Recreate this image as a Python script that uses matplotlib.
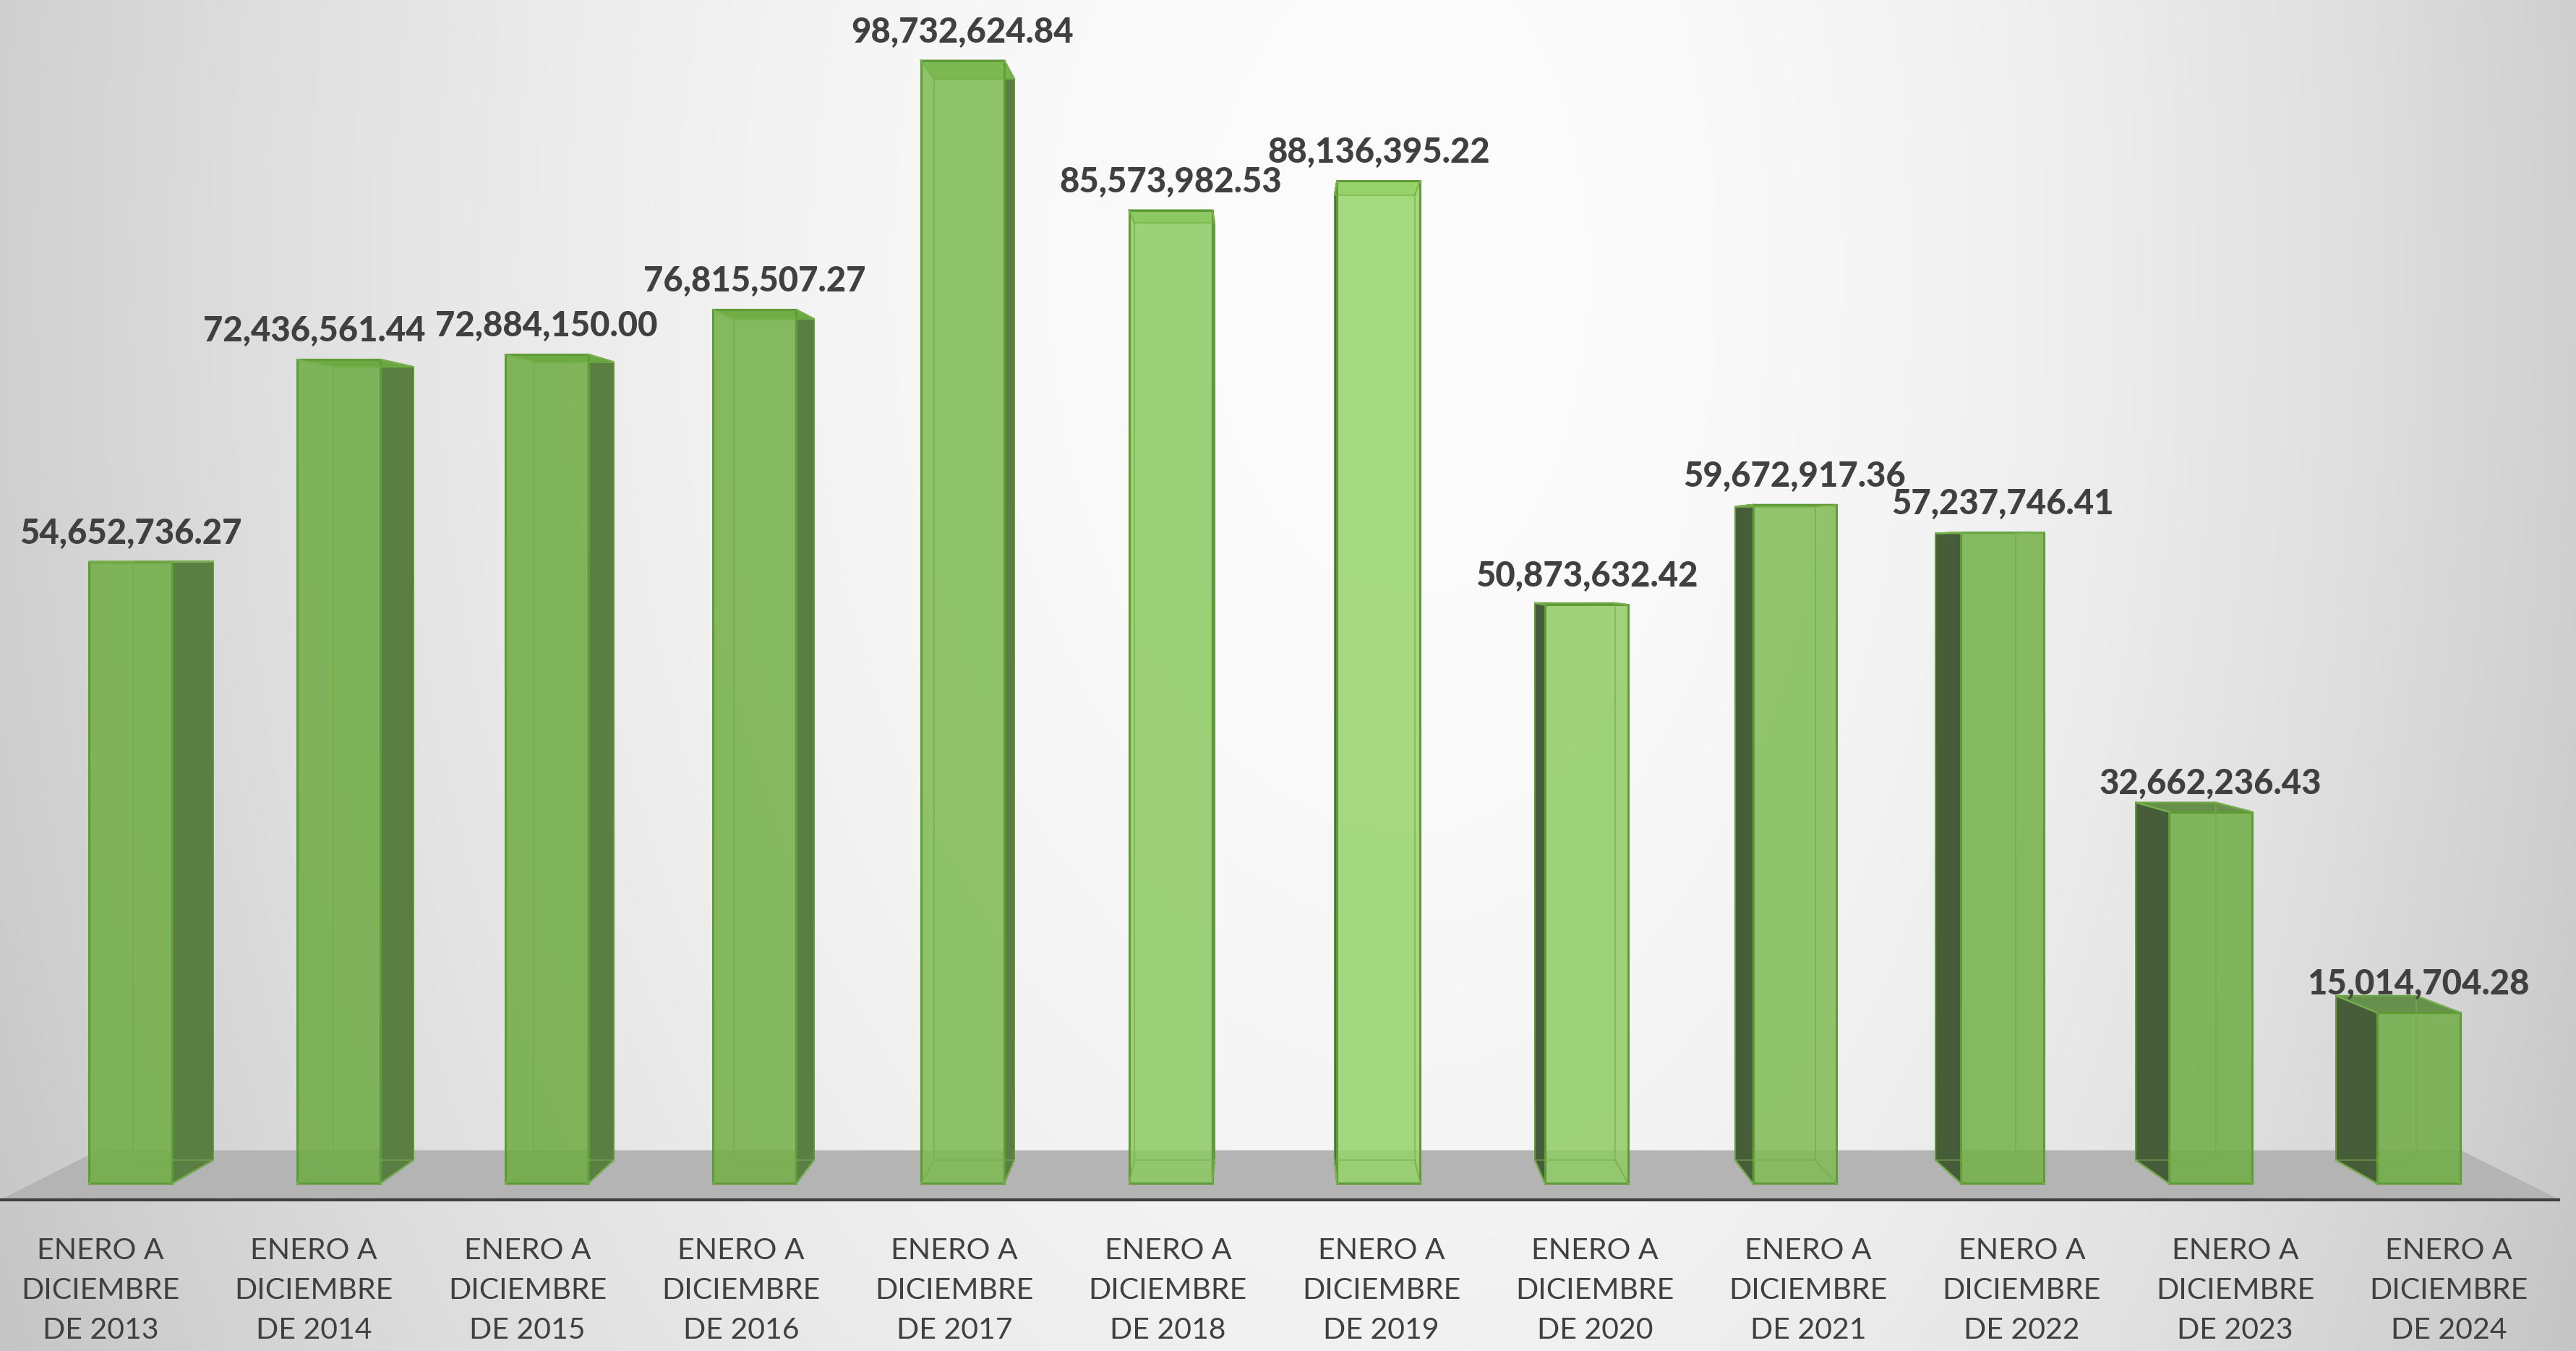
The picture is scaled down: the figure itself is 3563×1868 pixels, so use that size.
import numpy as np
import matplotlib.pyplot as plt
from matplotlib.patches import Polygon

# Data
years = [2013, 2014, 2015, 2016, 2017, 2018, 2019, 2020, 2021, 2022, 2023, 2024]
periods = ['ENERO A\nDICIEMBRE\nDE %d' % y for y in years]
amounts = [54652736.27, 72436561.44, 72884150.00, 76815507.27, 98732624.84,
           85573982.53, 88136395.22, 50873632.42, 59672917.36, 57237746.41,
           32662236.43, 15014704.28]

# Fake 3D layout (perspective toward a vanishing point)
W, H = 3563, 1868
XMIN, XMAX = -0.628, 11.757
YMIN, YMAX = -14.74, 104.05      # millions
VP = (5.5, 54.9)
DEPTH = 0.963      # back face of the bars
K_FRONT = 1.0263   # front edge of the floor
K_BACK = 0.947     # back edge of the floor
BAR_W = 0.4
# nudge for crowded value labels (pixels)
label_dx = {1: -34}


def proj(p, k):
    return (VP[0] + k*(p[0]-VP[0]), VP[1] + k*(p[1]-VP[1]))


def bg_level(u, v):
    # u: 0..1 left->right, v: 0..1 top->bottom
    dx = np.where(u < 0.55, (u-0.55)/0.55, (u-0.55)/0.45)
    r2 = dx**2 + ((v-0.2)/1.6)**2
    return np.clip(252 - 44*r2, 195, 252)


def bar_level(u):
    # lighting on the columns, brightest near the middle-right
    return 214 + 38*np.exp(-((u-0.54)/0.18)**2)


def to_uv(x, y):
    return (x-XMIN)/(XMAX-XMIN), (YMAX-y)/(YMAX-YMIN)


fig = plt.figure(figsize=(W/100, H/100), dpi=100)
ax = fig.add_axes([0, 0, 1, 1])
ax.set_xlim(XMIN, XMAX)
ax.set_ylim(YMIN, YMAX)
ax.axis('off')

# background gradient
uu, vv = np.meshgrid(np.linspace(0, 1, 500), np.linspace(0, 1, 260))
g = bg_level(uu, vv)/255
ax.imshow(np.dstack([g, g, g]), extent=[XMIN, XMAX, YMIN, YMAX],
          origin='upper', aspect='auto', zorder=0, interpolation='bilinear')

# floor
y_floor = proj((0, 0), K_FRONT)[1]
fl = [(XMIN, y_floor), (11.68, y_floor)]
fb = [proj(p, K_BACK/K_FRONT) for p in fl]
ax.add_patch(Polygon([fl[0], fl[1], fb[1], fb[0]], closed=True,
                     facecolor='#b4b4b4', edgecolor='none', zorder=1))
ax.plot([fl[0][0], fl[1][0]], [y_floor, y_floor], color='#404040', lw=3,
        solid_capstyle='butt', zorder=6)

alpha = 0.85
for i, val in enumerate(amounts):
    m = val/1e6
    x0, x1 = i - BAR_W/2, i + BAR_W/2
    front = [(x0, 0), (x1, 0), (x1, m), (x0, m)]
    back = [proj(p, DEPTH) for p in front]

    u, v = to_uv(i, m/2)
    b = bar_level(u)
    bgb = bg_level(u, v)
    target = np.array([b-87, b-35, b-124])
    base = np.clip((target - (1-alpha)*bgb)/alpha, 0, 255)/255

    # back edges
    bx = [p[0] for p in back] + [back[0][0]]
    by = [p[1] for p in back] + [back[0][1]]
    ax.plot(bx, by, color='#79b24f', lw=1.4, zorder=2)

    # side face
    if i < VP[0]:
        side = [front[1], back[1], back[2], front[2]]
        sc = '#5b7e43'
    else:
        side = [front[0], back[0], back[3], front[3]]
        sc = '#475d39'
    ax.add_patch(Polygon(side, closed=True, facecolor=sc, edgecolor='#4a7a2c',
                         lw=1.6, zorder=3))

    # top face
    top = [front[3], front[2], back[2], back[3]]
    tc = '#66904c' if back[3][1] > m else base*0.97
    ax.add_patch(Polygon(top, closed=True, facecolor=tc, edgecolor='#5f9c37',
                         lw=1.6, zorder=3))

    # front face
    ax.add_patch(Polygon(front, closed=True, facecolor=base, alpha=alpha,
                         edgecolor='none', zorder=4))
    ax.add_patch(Polygon(front, closed=True, facecolor='none',
                         edgecolor='#5f9c37', lw=2.2, zorder=5))
    # back edges seen through the front
    for a, c in zip(front, back):
        ax.plot([a[0], c[0]], [a[1], c[1]], color='#79b24f', lw=1.4, zorder=5)
    ax.plot(bx, by, color='#79b24f', lw=1.2, alpha=0.6, zorder=5)

    ax.annotate(f'{val:,.2f}', (i, m), xytext=(label_dx.get(i, 0)*0.72, 18),
                textcoords='offset points', ha='center', va='baseline',
                fontsize=34, fontweight='black', color='#404040',
                family='Lato', zorder=7)

    xl = VP[0] + K_FRONT*(i - VP[0])
    ax.text(xl, -9.45, periods[i], ha='center', va='center', fontsize=29.5,
            color='#404040', linespacing=1.6, family='Lato', zorder=7)

fig.savefig('out.png', dpi=100)
